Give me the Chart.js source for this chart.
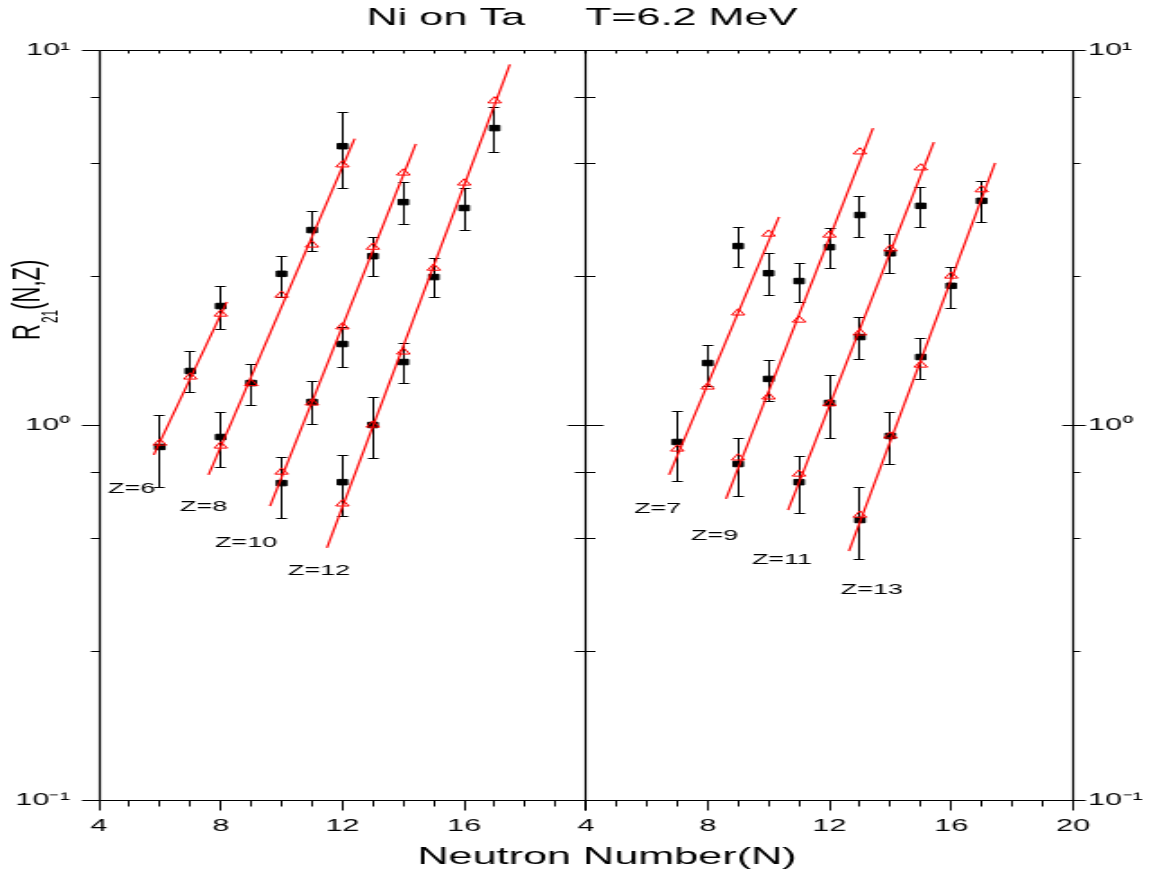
<!DOCTYPE html>
<html>
<head>
<meta charset="utf-8">
<title>Ni on Ta T=6.2 MeV</title>
<script src="https://cdn.jsdelivr.net/npm/chart.js@4.4.1/dist/chart.umd.min.js"></script>
<style>
  html, body { margin: 0; padding: 0; background: #fff; }
  #wrap { position: relative; width: 1164px; height: 876px; }
  /* the original figure is a horizontally stretched plot, so the canvases are drawn narrow and stretched */
  #wrap canvas { position: absolute; left: 0; top: 0; width: 1164px !important; height: 876px !important; }
</style>
</head>
<body>
<div id="wrap">
  <canvas id="leftChart" width="647" height="876"></canvas>
  <canvas id="rightChart" width="647" height="876"></canvas>
</div>
<script>
// axis ticks
var yDecades = [0.1, 1, 10];
var yDecadeLabels = ['10\u207B\u00B9', '10\u2070', '10\u00B9'];
var yMinor = [0.25, 0.5, 0.75, 2.5, 5, 7.5];

// left panel : Z = 6, 8, 10, 12
var nZ6 = [6, 7, 8];
var expZ6 = [0.874, 1.393, 2.076];
var loZ6 = [0.683, 1.225, 1.803];
var hiZ6 = [1.063, 1.575, 2.348];
var calcZ6 = [0.895, 1.343, 1.976];
var fitZ6 = [[5.8, 0.832], [8.2, 2.13]];

var nZ8 = [8, 9, 10, 11, 12];
var expZ8 = [0.929, 1.294, 2.53, 3.31, 5.54];
var loZ8 = [0.773, 1.13, 2.19, 2.91, 4.28];
var hiZ8 = [1.083, 1.454, 2.82, 3.72, 6.83];
var calcZ8 = [0.879, 1.29, 2.22, 3.02, 4.94];
var fitZ8 = [[7.6, 0.736], [12.4, 5.8]];

var nZ10 = [10, 11, 12, 13, 14];
var expZ10 = [0.700, 1.152, 1.644, 2.82, 3.93];
var loZ10 = [0.565, 1.006, 1.428, 2.50, 3.43];
var hiZ10 = [0.822, 1.31, 1.83, 3.17, 4.45];
var calcZ10 = [0.749, 1.145, 1.827, 2.98, 4.70];
var fitZ10 = [[9.62, 0.608], [14.41, 5.62]];

var nZ12 = [12, 13, 14, 15, 16, 17];
var expZ12 = [0.704, 1.0, 1.472, 2.48, 3.79, 6.19];
var loZ12 = [0.572, 0.817, 1.294, 2.195, 3.31, 5.34];
var hiZ12 = [0.832, 1.188, 1.654, 2.79, 4.28, 7.05];
var calcZ12 = [0.616, 1.0, 1.566, 2.62, 4.42, 7.32];
var fitZ12 = [[11.49, 0.47], [17.5, 9.16]];

// right panel : Z = 7, 9, 11, 13
var nZ7 = [7, 8, 9, 10];
var expZ7 = [0.901, 1.463, 3.0, 2.54];
var loZ7 = [0.709, 1.27, 2.64, 2.22];
var hiZ7 = [1.09, 1.634, 3.37, 2.87];
var calcZ7 = [0.863, 1.263, 1.99, 3.23];
var fitZ7 = [[6.73, 0.736], [10.34, 3.59]];

var nZ9 = [9, 10, 11, 12, 13];
var expZ9 = [0.787, 1.327, 2.42, 2.98, 3.63];
var loZ9 = [0.647, 1.159, 2.13, 2.62, 3.17];
var hiZ9 = [0.923, 1.49, 2.70, 3.35, 4.08];
var calcZ9 = [0.817, 1.188, 1.905, 3.21, 5.35];
var fitZ9 = [[8.6, 0.635], [13.43, 6.19]];

var nZ11 = [11, 12, 13, 14, 15];
var expZ11 = [0.704, 1.145, 1.716, 2.87, 3.84];
var loZ11 = [0.583, 0.923, 1.50, 2.54, 3.37];
var hiZ11 = [0.827, 1.36, 1.94, 3.23, 4.31];
var calcZ11 = [0.740, 1.14, 1.76, 2.95, 4.85];
var fitZ11 = [[10.64, 0.593], [15.43, 5.68]];

var nZ13 = [13, 14, 15, 16, 17];
var expZ13 = [0.558, 0.935, 1.518, 2.35, 3.96];
var loZ13 = [0.439, 0.787, 1.327, 2.05, 3.48];
var hiZ13 = [0.683, 1.083, 1.706, 2.64, 4.48];
var calcZ13 = [0.575, 0.935, 1.445, 2.496, 4.24];
var fitZ13 = [[12.64, 0.461], [17.44, 5.0]];

// where the "Z=.." captions sit (N, R)
var leftCaptions = [[6, 4.3, 0.675], [8, 6.66, 0.604], [10, 7.81, 0.485], [12, 10.21, 0.408]];
var rightCaptions = [[7, 5.58, 0.597], [9, 7.45, 0.506], [11, 9.45, 0.437], [13, 12.37, 0.363]];

Chart.defaults.font.family = "'Liberation Sans', Arial, sans-serif";
Chart.defaults.color = '#000';

function zSets(z, n, exp, lo, hi, calc, fit) {
	return [
		{
			label: 'calc Z=' + z,
			data: n.map(function (v, i) { return {x: v, y: calc[i]}; }),
			pointStyle: 'triangle', pointRadius: 4.2,
			borderColor: '#ff0000', backgroundColor: 'rgba(0,0,0,0)', borderWidth: 1,
			showLine: false, order: 0
		},
		{
			label: 'fit Z=' + z,
			data: fit.map(function (p) { return {x: p[0], y: p[1]}; }),
			showLine: true, borderColor: '#ff0000', borderWidth: 1.2,
			pointRadius: 0, order: 1
		},
		{
			label: 'exp Z=' + z,
			data: n.map(function (v, i) { return {x: v, y: exp[i]}; }),
			errLow: lo, errHigh: hi,
			pointStyle: 'rect', pointRadius: 3.9,
			borderColor: '#000', backgroundColor: '#000', borderWidth: 1,
			showLine: false, order: 2
		}
	];
}

function crisp(v) { return Math.round(v) + 0.5; }

var errorBars = {
	id: 'errorBars',
	beforeDatasetsDraw: function (chart) {
		var ctx = chart.ctx, x = chart.scales.x, y = chart.scales.y;
		ctx.save();
		ctx.strokeStyle = '#000';
		ctx.lineWidth = 1;
		ctx.beginPath();
		chart.data.datasets.forEach(function (ds) {
			if (!ds.errLow) return;
			ds.data.forEach(function (p, i) {
				var px = crisp(x.getPixelForValue(p.x) - 0.5);
				var top = crisp(y.getPixelForValue(ds.errHigh[i]));
				var bot = crisp(y.getPixelForValue(ds.errLow[i]));
				ctx.moveTo(px, top); ctx.lineTo(px, bot);
				ctx.moveTo(px - 3, top); ctx.lineTo(px + 3, top);
				ctx.moveTo(px - 3, bot); ctx.lineTo(px + 3, bot);
			});
		});
		ctx.stroke();
		ctx.restore();
	}
};

var zCaptions = {
	id: 'zCaptions',
	afterDatasetsDraw: function (chart, args, opts) {
		var ctx = chart.ctx, x = chart.scales.x, y = chart.scales.y;
		ctx.save();
		ctx.fillStyle = '#000';
		ctx.font = "15px 'Liberation Sans', Arial, sans-serif";
		ctx.textAlign = 'left';
		ctx.textBaseline = 'middle';
		(opts.items || []).forEach(function (c) {
			ctx.fillText('Z=' + c[0], x.getPixelForValue(c[1]), y.getPixelForValue(c[2]));
		});
		ctx.restore();
	}
};

// box around the panel plus the small tick marks of the original plot
var frameTicks = {
	id: 'frameTicks',
	afterDraw: function (chart, args, opts) {
		var ctx = chart.ctx, a = chart.chartArea, x = chart.scales.x, y = chart.scales.y;
		var top = crisp(a.top), bottom = crisp(a.bottom);
		var left = crisp(a.left - 0.5), right = crisp(a.right - 0.5);
		ctx.save();
		ctx.strokeStyle = '#000';
		ctx.lineWidth = 1;
		ctx.beginPath();
		ctx.moveTo(left, top); ctx.lineTo(right, top);
		ctx.moveTo(left, bottom); ctx.lineTo(right, bottom);
		for (var n = x.min; n <= x.max; n++) {
			var px = crisp(x.getPixelForValue(n) - 0.5);
			var major = n % 4 === 0;
			ctx.moveTo(px, bottom); ctx.lineTo(px, bottom + (major ? 10 : 6));
			ctx.moveTo(px, top); ctx.lineTo(px, top + 3);
		}
		var marks = yDecades.map(function (v) { return [v, 0]; })
			.concat(yMinor.map(function (v) { return [v, 1]; }));
		marks.forEach(function (m) {
			var py = crisp(y.getPixelForValue(m[0]));
			if (opts.left) {
				ctx.moveTo(left - opts.left.out[m[1]], py);
				ctx.lineTo(left + opts.left.in[m[1]], py);
			}
			if (opts.right) {
				ctx.moveTo(right - opts.right.in[m[1]], py);
				ctx.lineTo(right + opts.right.out[m[1]], py);
			}
		});
		ctx.stroke();
		ctx.lineWidth = 1.15;
		ctx.beginPath();
		if (opts.left) { ctx.moveTo(left, top); ctx.lineTo(left, bottom); }
		if (opts.right) { ctx.moveTo(right, top); ctx.lineTo(right, bottom); }
		ctx.stroke();
		ctx.restore();
	}
};

var yTitle = {
	id: 'yTitle',
	afterDraw: function (chart) {
		var ctx = chart.ctx;
		ctx.save();
		ctx.translate(22, 340);
		ctx.rotate(-Math.PI / 2);
		ctx.fillStyle = '#000';
		ctx.textAlign = 'left';
		ctx.textBaseline = 'alphabetic';
		ctx.font = "22px 'Liberation Sans', Arial, sans-serif";
		ctx.fillText('R', 0, 0);
		var w = ctx.measureText('R').width + 1;
		ctx.font = "12px 'Liberation Sans', Arial, sans-serif";
		ctx.fillText('21', w, 10);
		w += ctx.measureText('21').width;
		ctx.font = "22px 'Liberation Sans', Arial, sans-serif";
		ctx.fillText('(N,Z)', w, 0);
		ctx.restore();
	}
};

function yScale(position, width, pad) {
	return {
		type: 'logarithmic', position: position, min: 0.1, max: 10,
		grid: {display: false, drawTicks: false}, border: {display: false},
		afterBuildTicks: function (s) { s.ticks = yDecades.map(function (v) { return {value: v}; }); },
		afterFit: function (s) { s.width = width; },
		ticks: {
			padding: pad, font: {size: 17},
			callback: function (v) { var i = yDecades.indexOf(v); return i < 0 ? '' : yDecadeLabels[i]; }
		}
	};
}

// empty axis that only reserves room, so the titles can stay centred on the page
function spacer(position, width) {
	return {
		type: 'linear', position: position, display: true,
		grid: {display: false, drawTicks: false}, border: {display: false},
		ticks: {display: false},
		afterFit: function (s) { s.width = width; }
	};
}

function xScale(showLast) {
	return {
		type: 'linear', min: 4, max: 20,
		grid: {display: false, drawTicks: false}, border: {display: false},
		afterFit: function (s) { s.height = 42.6; },
		ticks: {
			stepSize: 4, padding: 16, autoSkip: false, maxRotation: 0, font: {size: 17},
			callback: function (v) { return (v === 20 && !showLast) ? '' : v; }
		}
	};
}

var leftSets = [].concat(
	zSets(6, nZ6, expZ6, loZ6, hiZ6, calcZ6, fitZ6),
	zSets(8, nZ8, expZ8, loZ8, hiZ8, calcZ8, fitZ8),
	zSets(10, nZ10, expZ10, loZ10, hiZ10, calcZ10, fitZ10),
	zSets(12, nZ12, expZ12, loZ12, hiZ12, calcZ12, fitZ12)
);
var rightSets = [].concat(
	zSets(7, nZ7, expZ7, loZ7, hiZ7, calcZ7, fitZ7),
	zSets(9, nZ9, expZ9, loZ9, hiZ9, calcZ9, fitZ9),
	zSets(11, nZ11, expZ11, loZ11, hiZ11, calcZ11, fitZ11),
	zSets(13, nZ13, expZ13, loZ13, hiZ13, calcZ13, fitZ13)
);

new Chart(document.getElementById('leftChart'), {
	type: 'scatter',
	data: {datasets: leftSets},
	plugins: [errorBars, zCaptions, frameTicks, yTitle],
	options: {
		responsive: false, animation: false, events: [], devicePixelRatio: 1,
		layout: {padding: {left: 0, right: 0, top: 0, bottom: 33.4}},
		scales: {x: xScale(false), y: yScale('left', 55, 16), pad: spacer('right', 321.3)},
		plugins: {
			legend: {display: false},
			tooltip: {enabled: false},
			title: {
				display: true, text: 'Ni on Ta     T=6.2 MeV',
				font: {size: 24, weight: 'normal'}, padding: {top: 4, bottom: 17.2}
			},
			zCaptions: {items: leftCaptions},
			frameTicks: {left: {out: [10, 5], in: [0, 0]}, right: {in: [10, 6], out: [10, 5.5]}}
		}
	}
});

new Chart(document.getElementById('rightChart'), {
	type: 'scatter',
	data: {datasets: rightSets},
	plugins: [errorBars, zCaptions, frameTicks],
	options: {
		responsive: false, animation: false, events: [], devicePixelRatio: 1,
		layout: {padding: {left: 27.8, right: 0, top: 50, bottom: 0}},
		scales: {x: xScale(true), y: yScale('right', 50.6, 8.3), pad: spacer('left', 297.9)},
		plugins: {
			legend: {display: false},
			tooltip: {enabled: false},
			subtitle: {
				display: true, position: 'bottom', text: 'Neutron Number(N)',
				font: {size: 24, weight: 'normal'}, padding: {top: 0, bottom: 4.6}
			},
			zCaptions: {items: rightCaptions},
			frameTicks: {right: {in: [6, 0], out: [7, 4]}}
		}
	}
});
</script>
</body>
</html>
